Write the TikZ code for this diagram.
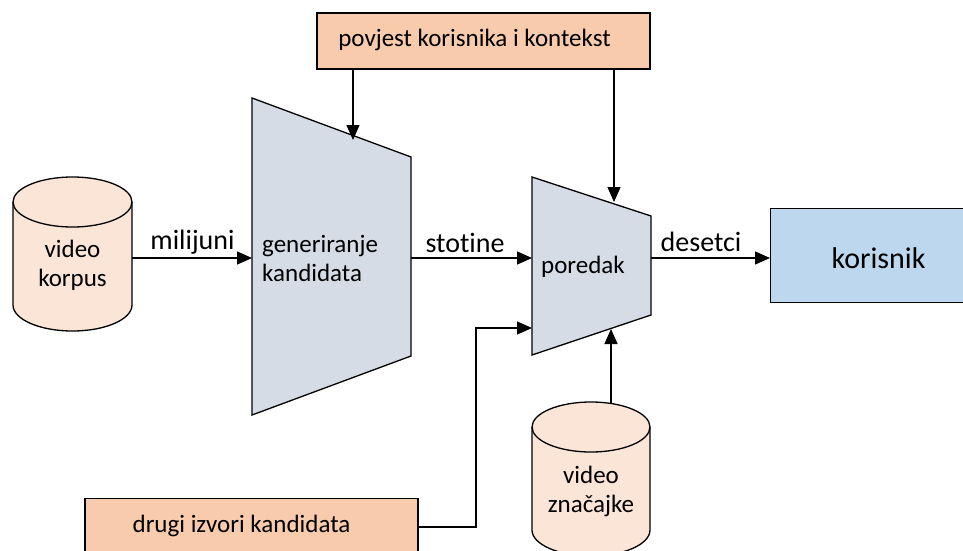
\documentclass[tikz,border=0pt]{standalone}
\usepackage{fontspec}
\setmainfont[RawFeature=-liga]{Carlito}
\usetikzlibrary{arrows.meta}
\definecolor{peach}{HTML}{F8CBAD}
\definecolor{lightpeach}{HTML}{FBE5D6}
\definecolor{slate}{HTML}{D6DCE5}
\definecolor{skyblue}{HTML}{BDD7EE}
\tikzset{
  line/.style={line width=1.3pt, draw=black},
  arr/.style={line, -{Triangle[length=15pt,width=13pt]}},
  boxtext/.style={font=\fontsize{25}{29}\selectfont, inner sep=0pt, align=center},
  lbl/.style={font=\fontsize{28}{30}\selectfont, inner sep=0pt},
  shapefill/.style={line, line join=miter},
}
\begin{document}
\begin{tikzpicture}[x=1pt,y=1pt]
\useasboundingbox (0,0) rectangle (963,-551);
\clip (0,0) rectangle (963,-551);
\fill[white] (0,0) rectangle (963,-551);

% top box
\node[shapefill, fill=peach, rectangle, minimum width=333pt, minimum height=56pt, inner sep=0pt] (hist) at (483.5,-41) {};
\node[boxtext] (histt) at (474.5,-40) {povjest korisnika i kontekst};

% bottom-left box
\node[shapefill, fill=peach, rectangle, minimum width=333pt, minimum height=100pt, inner sep=0pt, anchor=north] (other) at (251.5,-498) {};
\node[boxtext] (othert) at (241.5,-526) {drugi izvori kandidata};

% korisnik box
\node[shapefill, fill=skyblue, rectangle, minimum width=205pt, minimum height=94pt, inner sep=0pt, anchor=north west] (user) at (770,-208) {};
\node[font=\fontsize{30}{34}\selectfont, inner sep=0pt] (usert) at (878.5,-258) {korisnik};

% cylinder 1
\filldraw[shapefill, fill=lightpeach] (13,-202) -- (13,-305)
  arc[start angle=180, end angle=360, x radius=59.5pt, y radius=26pt]
  -- (132,-202) arc[start angle=0, end angle=180, x radius=59.5pt, y radius=25pt] -- cycle;
\draw[line] (13,-202) arc[start angle=180, end angle=360, x radius=59.5pt, y radius=25pt];
\coordinate (c1e) at (132,-258);
\node[boxtext] (c1t) at (72.5,-265) {video\\korpus};

% cylinder 2
\filldraw[shapefill, fill=lightpeach] (532,-427) -- (532,-530)
  arc[start angle=180, end angle=360, x radius=59pt, y radius=26pt]
  -- (650,-427) arc[start angle=0, end angle=180, x radius=59pt, y radius=25pt] -- cycle;
\draw[line] (532,-427) arc[start angle=180, end angle=360, x radius=59pt, y radius=25pt];
\coordinate (c2top) at (611,-403.5);
\node[boxtext] (c2t) at (591,-491) {video\\značajke};

% trapezoid 1 (generiranje)
\coordinate (g1) at (252,-98);
\coordinate (g2) at (411,-157);
\coordinate (g3) at (411,-356);
\coordinate (g4) at (252,-415);
\filldraw[shapefill, fill=slate] (g1) -- (g2) -- (g3) -- (g4) -- cycle;
\coordinate (gin) at (252,-258);
\coordinate (gout) at (411,-258);
\coordinate (gtop) at (353,-140);
\node[boxtext, align=left, anchor=west] (gt) at (262,-258) {generiranje\\kandidata};

% trapezoid 2 (poredak)
\coordinate (p1) at (532,-177);
\coordinate (p2) at (651,-216);
\coordinate (p3) at (651,-315);
\coordinate (p4) at (532,-355);
\filldraw[shapefill, fill=slate] (p1) -- (p2) -- (p3) -- (p4) -- cycle;
\coordinate (pin) at (532,-258);
\coordinate (pin2) at (532,-328);
\coordinate (pout) at (651,-258);
\coordinate (ptop) at (614,-202);
\coordinate (pbot) at (611,-329);
\node[boxtext] (pt) at (583,-267) {poredak};

% connectors
\draw[arr] (c1e) -- (gin);
\draw[arr] (gout) -- (pin);
\draw[arr] (pout) -- (user.west |- pout);
\draw[arr] (hist.south -| gtop) -- (gtop);
\draw[arr] (hist.south -| ptop) -- (ptop);
\draw[arr] (c2top) -- (pbot);
\coordinate (bend) at (476,-527);
\draw[arr] (other.east |- bend) -- (bend) -- (bend |- pin2) -- (pin2);

% labels
\node[lbl] (l1) at (192.5,-242) {milijuni};
\node[lbl] (l2) at (465,-243) {stotine};
\node[lbl] (l3) at (701,-242) {desetci};
\end{tikzpicture}
\end{document}
